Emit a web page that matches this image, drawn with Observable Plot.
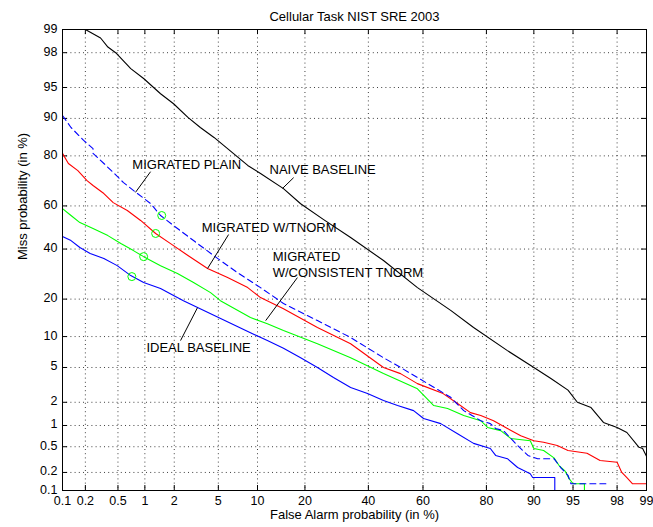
<!DOCTYPE html>
<html>
<head>
<meta charset="utf-8">
<script src="https://cdn.jsdelivr.net/npm/d3@7"></script>
<script src="https://cdn.jsdelivr.net/npm/@observablehq/plot@0.6"></script>
<style>
  body { margin: 0; background: white; }
  svg { display: block; }
</style>
</head>
<body>
<div id="chart"></div>
<script>
// ---------- data (percentages) ----------
const tickValues = [0.1, 0.2, 0.5, 1, 2, 5, 10, 20, 40, 60, 80, 90, 95, 98, 99];
const tickLabels = ["0.1","0.2","0.5","1","2","5","10","20","40","60","80","90","95","98","99"];

const titleText = "Cellular Task NIST SRE 2003";
const xLabel = "False Alarm probability (in %)";
const yLabel = "Miss probability (in %)";

// [false alarm %, miss %]
const naiveBaseline = [
  [0.2,99],[0.31,98.7],[0.38,98.3],[0.47,98.0],[0.7,96.9],[0.97,96.0],[1.46,94.2],[1.97,92.7],
  [2.7,90.2],[3.5,88],[4.6,85.5],[6.6,80.8],[8.5,76.7],[10.5,73.7],[14.9,67.6],[18.9,61],
  [25.2,53.7],[33.8,45.3],[45.5,34.9],[58,24],[69.5,16.5],[76.5,12],[85,7.4],[90,5.0],
  [92.5,3.8],[94.5,2.8],[95.4,2.0],[96.5,1.72],[97.3,1.1],[98,0.94],[98.4,0.8],[98.8,0.49],
  [98.9,0.47],[99,0.36]
];
const migratedPlain = [
  [0.1,90.6],[0.13,88],[0.19,84.7],[0.25,82.3],[0.25,80.8],[0.34,77.4],[0.44,74.1],[0.58,70.1],
  [0.83,65.5],[1.15,61.1],[1.46,55.6],[1.97,50.9],[3.04,43.9],[4.56,37.1],[7.1,29.8],[10.5,24],
  [14.9,18.6],[23.4,13.7],[33.8,9.8],[45.5,6.3],[51.8,5.0],[58,3.9],[69.5,2.3],[73.6,1.57],
  [78.5,1.16],[81,1.06],[82.3,0.91],[84.1,0.85],[87.1,0.52],[89,0.37],[90.6,0.33],[92.9,0.33],
  [93.7,0.24],[94.5,0.18],[94.8,0.13],[97.5,0.13]
];
const migratedTnorm = [
  [0.1,80.8],[0.12,77.4],[0.16,74.8],[0.21,70.9],[0.25,68.9],[0.34,65.5],[0.44,61.5],[0.64,57.9],
  [0.9,53.3],[1.3,47.2],[1.84,42.5],[2.7,37.1],[4.05,31.5],[5.95,27.8],[8.5,24],[10.5,20.5],
  [14.9,17],[23.4,12],[33.8,8.6],[45.5,5.0],[51.8,4.3],[58,3.33],[67,2.55],[71.7,1.93],
  [75.6,1.48],[78.5,1.36],[81.8,1.16],[85,0.91],[87.7,0.72],[90,0.61],[91.5,0.58],[93.3,0.52],
  [94.5,0.44],[96.2,0.40],[97.1,0.31],[98,0.29],[98.2,0.2],[98.4,0.165],[98.6,0.13],[99,0.13]
];
const migratedConsistent = [
  [0.1,58.8],[0.13,55.6],[0.17,52.3],[0.25,49.5],[0.38,46.2],[0.54,42.5],[0.75,39.3],[0.97,36.6],
  [1.46,32.7],[2.15,29.4],[3.04,25.9],[4.3,22.2],[5.2,19.5],[8.9,14.5],[11.7,12.9],[14.9,11.3],
  [23.4,8.6],[33.8,6.3],[45.5,4.3],[58,2.9],[63.8,1.82],[68.5,1.67],[73.6,1.36],[78.5,1.16],
  [80.3,0.94],[83.5,0.85],[85.7,0.66],[89.4,0.61],[90,0.47],[91.5,0.44],[92.9,0.34],[93.5,0.26],
  [94.2,0.21],[94.6,0.16],[95,0.13],[96,0.13],[96,0.1],[98.2,0.1]
];
const idealBaseline = [
  [0.1,45.8],[0.13,43.9],[0.17,40.7],[0.23,38],[0.34,35.8],[0.49,32.7],[0.7,28.6],[0.97,25.9],
  [1.46,23.7],[1.97,21.2],[2.45,19.5],[8.9,10.8],[11.7,9.2],[14.9,7.8],[18.9,6.3],[23.4,5.0],
  [28.2,3.9],[33.8,3.0],[39.7,2.55],[45.5,2.1],[50.7,1.82],[56.6,1.57],[60.2,1.24],[66.2,1.06],
  [71.7,0.77],[76.5,0.56],[81,0.47],[82.3,0.37],[85,0.33],[87.1,0.24],[89.4,0.19],[89.8,0.165],
  [93,0.165],[93,0.1]
];
// operating-point markers [fa, miss]
const markerPoints = [[1.5,55.6],[1.3,47.2],[0.97,36.6],[0.72,28.2]];

// annotations: label text, anchor (fa, miss)
const annotationLabels = ["MIGRATED PLAIN","NAIVE BASELINE","MIGRATED W/TNORM","MIGRATED","W/CONSISTENT TNORM","IDEAL BASELINE"];
const annotationFA =    [0.73, 12.1, 3.6, 12.7, 12.7, 1.04];
const annotationMiss =  [77.0, 75.2, 50.0, 36.7, 29.8, 7.9];
// leader lines [fa1, miss1, fa2, miss2]
const leaderLines = [
  [1.15,74.4,0.79,66],
  [17.2,72.1,14.7,67.7],
  [6.06,46.7,4.05,31.5],
  [18.1,27.8,11.4,13.7],
  [2.3,9.2,3.3,17.3]
];

// ---------- probit (inverse normal CDF), input in percent ----------
function probit(pct) {
  const p = pct / 100;
  const a = [-3.969683028665376e+01, 2.209460984245205e+02, -2.759285104469687e+02, 1.383577518672690e+02, -3.066479806614716e+01, 2.506628277459239e+00];
  const b = [-5.447609879822406e+01, 1.615858368580409e+02, -1.556989798598866e+02, 6.680131188771972e+01, -1.328068155288572e+01];
  const c = [-7.784894002430293e-03, -3.223964580411365e-01, -2.400758277161838e+00, -2.549732539343734e+00, 4.374664141464968e+00, 2.938163982698783e+00];
  const d = [7.784695709041462e-03, 3.224671290700398e-01, 2.445134137142996e+00, 3.754408661907416e+00];
  const plow = 0.02425, phigh = 1 - plow;
  let q, r;
  if (p < plow) {
    q = Math.sqrt(-2 * Math.log(p));
    return (((((c[0]*q+c[1])*q+c[2])*q+c[3])*q+c[4])*q+c[5]) / ((((d[0]*q+d[1])*q+d[2])*q+d[3])*q+1);
  } else if (p <= phigh) {
    q = p - 0.5; r = q*q;
    return (((((a[0]*r+a[1])*r+a[2])*r+a[3])*r+a[4])*r+a[5])*q / (((((b[0]*r+b[1])*r+b[2])*r+b[3])*r+b[4])*r+1);
  } else {
    q = Math.sqrt(-2 * Math.log(1 - p));
    return -(((((c[0]*q+c[1])*q+c[2])*q+c[3])*q+c[4])*q+c[5]) / ((((d[0]*q+d[1])*q+d[2])*q+d[3])*q+1);
  }
}

const W = 653, H = 527, mT = 29, mL = 62, mR = 7, mB = 37;
const innerW = W - mL - mR, innerH = H - mT - mB;
const tickLen = 5;
const font = "'Liberation Sans', Arial, Helvetica, sans-serif";

const annotations = annotationLabels.map((t, i) => ({label: t, fa: annotationFA[i], miss: annotationMiss[i]}));
const gridTicks = tickValues.slice(1, -1);

const chart = Plot.plot({
  width: W,
  height: H,
  marginTop: mT, marginLeft: mL, marginRight: mR, marginBottom: mB,
  style: {fontFamily: font, fontSize: "13px", background: "white", color: "black"},
  x: {domain: [probit(0.1), probit(99)], axis: null},
  y: {domain: [probit(0.1), probit(99)], axis: null},
  marks: [
    // dotted grid
    Plot.ruleX(gridTicks, {x: probit, stroke: "#000", strokeOpacity: 0.75, strokeDasharray: "1,3.2", strokeWidth: 1}),
    Plot.ruleY(gridTicks, {y: probit, stroke: "#000", strokeOpacity: 0.75, strokeDasharray: "1,3.2", strokeWidth: 1}),
    // inside ticks on all four sides
    Plot.tickX(tickValues, {x: probit, insetTop: innerH - tickLen, stroke: "black"}),
    Plot.tickX(tickValues, {x: probit, insetBottom: innerH - tickLen, stroke: "black"}),
    Plot.tickY(tickValues, {y: probit, insetRight: innerW - tickLen, stroke: "black"}),
    Plot.tickY(tickValues, {y: probit, insetLeft: innerW - tickLen, stroke: "black"}),
    // curves
    Plot.line(naiveBaseline, {x: d => probit(d[0]), y: d => probit(d[1]), stroke: "black", strokeWidth: 1.1, clip: true}),
    Plot.line(idealBaseline, {x: d => probit(d[0]), y: d => probit(d[1]), stroke: "#0000ff", strokeWidth: 1.1, clip: true}),
    Plot.line(migratedConsistent, {x: d => probit(d[0]), y: d => probit(d[1]), stroke: "#00ff00", strokeWidth: 1.1, clip: true}),
    Plot.line(migratedTnorm, {x: d => probit(d[0]), y: d => probit(d[1]), stroke: "#ff0000", strokeWidth: 1.1, clip: true}),
    Plot.line(migratedPlain, {x: d => probit(d[0]), y: d => probit(d[1]), stroke: "#0000ff", strokeWidth: 1.1, strokeDasharray: "6,4", clip: true}),
    // markers
    Plot.dot(markerPoints, {x: d => probit(d[0]), y: d => probit(d[1]), r: 4, stroke: "#00ff00", fill: "none", strokeWidth: 1}),
    // annotation leaders and labels
    Plot.link(leaderLines, {x1: d => probit(d[0]), y1: d => probit(d[1]), x2: d => probit(d[2]), y2: d => probit(d[3]), stroke: "black", strokeWidth: 1}),
    Plot.text(annotations, {x: d => probit(d.fa), y: d => probit(d.miss), text: "label", textAnchor: "start", fontSize: 13, fill: "black"}),
    // frame
    Plot.frame({stroke: "black", strokeWidth: 1}),
    // tick labels
    Plot.text(tickValues, {x: probit, text: (d, i) => tickLabels[i], frameAnchor: "bottom", dy: 14, fontSize: 12.5, fill: "black"}),
    Plot.text(tickValues, {y: probit, text: (d, i) => tickLabels[i], frameAnchor: "left", dx: -5, dy: -1, textAnchor: "end", fontSize: 12.5, fill: "black"}),
    // title and axis labels
    Plot.text([titleText], {frameAnchor: "top", dy: -18, fontSize: 13, fill: "black"}),
    Plot.text([xLabel], {frameAnchor: "bottom", dy: 28, fontSize: 13, fill: "black"}),
    Plot.text([yLabel], {frameAnchor: "left", dx: -40, rotate: -90, fontSize: 13, fill: "black"})
  ]
});
document.getElementById("chart").appendChild(chart);
</script>
</body>
</html>
